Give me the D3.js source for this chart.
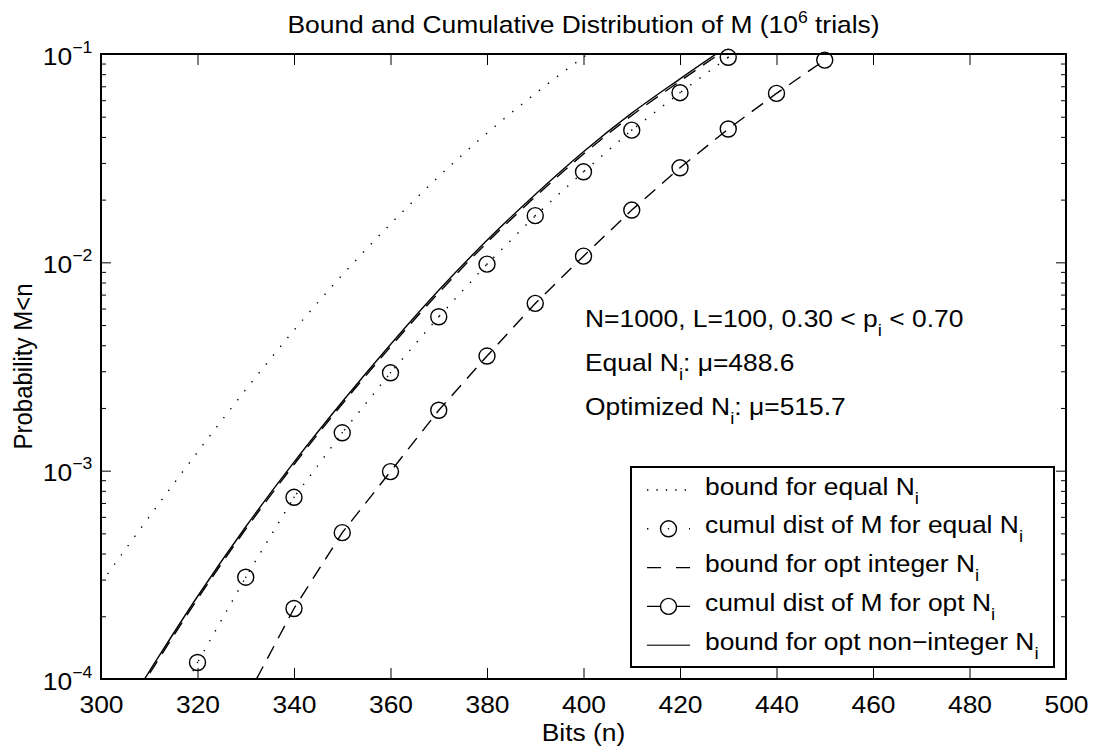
<!DOCTYPE html>
<html>
<head>
<meta charset="utf-8">
<script src="https://cdn.jsdelivr.net/npm/d3@7/dist/d3.min.js"></script>
<style>
  body { margin: 0; background: #fff; }
  text { font-family: "Liberation Sans", Arial, sans-serif; fill: #000; }
</style>
</head>
<body>
<svg id="chart"></svg>
<script>
// values (bits n, probability M<n)
var boundEqualBits = [300, 310, 320, 330, 340, 350, 360, 370, 380, 390, 400, 410];
var boundEqual = [2.89e-4, 6.01e-4, 1.227e-3, 2.449e-3, 4.72e-3, 8.69e-3, 0.01528, 0.02582, 0.04169, 0.06457, 0.0966, 0.1396];

var boundOptBits = [300, 310, 320, 330, 340, 350, 360, 370, 380, 390, 400, 410, 420, 430];
var boundOptInteger = [4.5e-5, 1.056e-4, 2.42e-4, 5.24e-4, 1.07e-3, 2.09e-3, 3.93e-3, 7.15e-3, 0.01243, 0.02063, 0.0331, 0.0507, 0.0741, 0.1070];
var boundOptNonInteger = [4.63e-5, 1.086e-4, 2.489e-4, 5.38e-4, 1.099e-3, 2.143e-3, 4.036e-3, 7.345e-3, 0.01276, 0.02118, 0.03396, 0.0520, 0.0760, 0.1096];

var cumulEqualBits = [310, 320, 330, 340, 350, 360, 370, 380, 390, 400, 410, 420, 430];
var cumulEqual = [4.5e-5, 1.2e-4, 3.08e-4, 7.45e-4, 1.52e-3, 2.95e-3, 5.48e-3, 9.8e-3, 0.01675, 0.0272, 0.0431, 0.0652, 0.0964];

var cumulOptBits = [330, 340, 350, 360, 370, 380, 390, 400, 410, 420, 430, 440, 450];
var cumulOpt = [8.0e-5, 2.18e-4, 5.04e-4, 9.9e-4, 1.95e-3, 3.55e-3, 6.35e-3, 0.01071, 0.01782, 0.02843, 0.04365, 0.0647, 0.0935];

var xTicks = [300, 320, 340, 360, 380, 400, 420, 440, 460, 480, 500];
var yMajorTicks = [1e-4, 1e-3, 1e-2, 1e-1];
var yMinorTicks = [];
[1e-4, 1e-3, 1e-2].forEach(function(dec) {
  for (var k = 2; k <= 9; k++) yMinorTicks.push(k * dec);
});

var legendLabels = ["bound for equal N", "cumul dist of M for equal N", "bound for opt integer N",
                    "cumul dist of M for opt N", "bound for opt non\u2212integer N"];
var noteLines = [["N=1000, L=100, 0.30 < p", "i", " < 0.70"],
                 ["Equal N", "i", ": \u03bc=488.6"],
                 ["Optimized N", "i", ": \u03bc=515.7"]];

function zip(xs, ys) {
  return xs.map(function(v, i) { return [v, ys[i]]; });
}

var stretch = 1.1;

function drawChart() {
  var svg = d3.select('#chart');
  var width = 1095, height = 753;
  var left = 101, right = 1066, top = 54, bottom = 679;
  var fs = 24;

  svg.attr('width', width).attr('height', height);
  svg.append('rect').attr('width', width).attr('height', height).attr('fill', '#fff');

  var xScale = d3.scaleLinear().domain([300, 500]).range([left, right]);
  var yScale = d3.scaleLog().domain([1e-4, 1e-1]).range([bottom, top]);

  // axes, ticks pointing inward
  var gx = svg.append('g').attr('transform', 'translate(0,' + bottom + ')')
    .call(d3.axisBottom(xScale).tickValues(xTicks).tickSizeInner(-11).tickSizeOuter(0).tickPadding(17));
  gx.attr('font-size', fs);
  gx.selectAll('.tick text').attr('transform', 'scale(' + stretch + ',1)');

  svg.append('g').attr('transform', 'translate(0,' + top + ')')
    .call(d3.axisTop(xScale).tickValues(xTicks).tickSizeInner(-11).tickSizeOuter(0).tickFormat(''));

  var gy = svg.append('g').attr('transform', 'translate(' + left + ',0)')
    .call(d3.axisLeft(yScale).tickValues(yMajorTicks).tickSizeInner(-10).tickSizeOuter(0).tickPadding(8)
      .tickFormat(function() { return '10'; }));
  gy.attr('font-size', fs);
  gy.selectAll('.tick text').attr('dy', '0.42em').attr('transform', 'scale(' + stretch + ',1)')
    .append('tspan').attr('dy', -12).attr('font-size', 16)
    .text(function(d) { return '\u2212' + Math.round(-Math.log10(d)); });

  svg.append('g').attr('transform', 'translate(' + left + ',0)')
    .call(d3.axisLeft(yScale).tickValues(yMinorTicks).tickSizeInner(-5).tickSizeOuter(0).tickFormat(''));
  svg.append('g').attr('transform', 'translate(' + right + ',0)')
    .call(d3.axisRight(yScale).tickValues(yMajorTicks).tickSizeInner(-10).tickSizeOuter(0).tickFormat(''));
  svg.append('g').attr('transform', 'translate(' + right + ',0)')
    .call(d3.axisRight(yScale).tickValues(yMinorTicks).tickSizeInner(-5).tickSizeOuter(0).tickFormat(''));

  svg.selectAll('.domain').remove();
  svg.selectAll('.tick line').attr('stroke', '#000').attr('stroke-width', 1);

  svg.append('clipPath').attr('id', 'plotClip')
    .append('rect').attr('x', left).attr('y', top).attr('width', right - left).attr('height', bottom - top);

  var plot = svg.append('g').attr('clip-path', 'url(#plotClip)');
  var smooth = d3.line().x(function(d) { return xScale(d[0]); }).y(function(d) { return yScale(d[1]); })
    .curve(d3.curveCatmullRom.alpha(0.5));
  var straight = d3.line().x(function(d) { return xScale(d[0]); }).y(function(d) { return yScale(d[1]); });

  var dotted = '1.4,10', dashed = '14,9';

  plot.append('path').attr('d', smooth(zip(boundEqualBits, boundEqual)))
    .attr('fill', 'none').attr('stroke', '#000').attr('stroke-width', 1.4).attr('stroke-dasharray', dotted);
  plot.append('path').attr('d', straight(zip(cumulEqualBits, cumulEqual)))
    .attr('fill', 'none').attr('stroke', '#000').attr('stroke-width', 1.4).attr('stroke-dasharray', dotted);
  plot.append('path').attr('d', smooth(zip(boundOptBits, boundOptInteger)))
    .attr('fill', 'none').attr('stroke', '#000').attr('stroke-width', 1.4).attr('stroke-dasharray', dashed);
  plot.append('path').attr('d', straight(zip(cumulOptBits, cumulOpt)))
    .attr('fill', 'none').attr('stroke', '#000').attr('stroke-width', 1.4).attr('stroke-dasharray', dashed);
  plot.append('path').attr('d', smooth(zip(boundOptBits, boundOptNonInteger)))
    .attr('fill', 'none').attr('stroke', '#000').attr('stroke-width', 1.4);

  // circle markers (not clipped, only points inside the y range)
  var inRange = function(d) { return d[1] >= 1e-4 && d[1] <= 1e-1; };
  [zip(cumulEqualBits, cumulEqual), zip(cumulOptBits, cumulOpt)].forEach(function(pts, s) {
    var g = svg.append('g');
    g.selectAll('circle.mk').data(pts.filter(inRange)).enter().append('circle')
      .attr('cx', function(d) { return xScale(d[0]); })
      .attr('cy', function(d) { return yScale(d[1]); })
      .attr('r', 8).attr('fill', 'none').attr('stroke', '#000').attr('stroke-width', 1.4);
    if (s === 0) {
      g.selectAll('circle.dot').data(pts.filter(inRange)).enter().append('circle')
        .attr('cx', function(d) { return xScale(d[0]); })
        .attr('cy', function(d) { return yScale(d[1]); })
        .attr('r', 0.8).attr('fill', '#000');
    }
  });

  // frame
  svg.append('rect').attr('x', left).attr('y', top).attr('width', right - left).attr('height', bottom - top)
    .attr('fill', 'none').attr('stroke', '#000').attr('stroke-width', 2);

  // title and axis labels
  var title = svg.append('text').attr('transform', 'translate(' + ((left + right) / 2) + ',33) scale(' + stretch + ',1)')
    .attr('text-anchor', 'middle').attr('font-size', fs);
  title.append('tspan').text('Bound and Cumulative Distribution of M (10');
  title.append('tspan').attr('dy', -10).attr('font-size', 16).text('6');
  title.append('tspan').attr('dy', 10).text(' trials)');

  svg.append('text').attr('transform', 'translate(' + ((left + right) / 2) + ',741) scale(' + stretch + ',1)')
    .attr('text-anchor', 'middle').attr('font-size', fs).text('Bits (n)');

  svg.append('text').attr('transform', 'translate(32,' + ((top + bottom) / 2) + ') rotate(-90) scale(1,' + stretch + ')')
    .attr('text-anchor', 'middle').attr('font-size', fs).text('Probability M<n');

  // annotation
  noteLines.forEach(function(parts, i) {
    var t = svg.append('text').attr('transform', 'translate(585,' + (327 + i * 44) + ') scale(' + stretch + ',1)')
      .attr('font-size', fs);
    t.append('tspan').text(parts[0]);
    t.append('tspan').attr('dy', 9).attr('font-size', 17).text(parts[1]);
    t.append('tspan').attr('dy', -9).text(parts[2]);
  });

  // legend
  var lg = svg.append('g');
  lg.append('rect').attr('x', 631).attr('y', 467).attr('width', 423).attr('height', 200)
    .attr('fill', '#fff').attr('stroke', '#000').attr('stroke-width', 2);
  legendLabels.forEach(function(label, i) {
    var cy = 490 + i * 38.8;
    var x1 = 647, x2 = 690, xm = 668.5;
    var ln = lg.append('line').attr('x1', x1).attr('x2', x2).attr('y1', cy).attr('y2', cy)
      .attr('stroke', '#000').attr('stroke-width', 1.4);
    if (i === 0) ln.attr('stroke-dasharray', '1.4,8');
    if (i === 1) ln.attr('stroke-dasharray', '1.4,19.6');
    if (i === 2) ln.attr('stroke-dasharray', '14,15');
    if (i === 3) ln.attr('stroke-dasharray', '14,15');
    if (i === 4) ln.attr('stroke', '#444');
    if (i === 1 || i === 3) {
      lg.append('circle').attr('cx', xm).attr('cy', cy).attr('r', 8)
        .attr('fill', '#fff').attr('stroke', '#000').attr('stroke-width', 1.4);
    }
    if (i === 1) lg.append('circle').attr('cx', xm).attr('cy', cy).attr('r', 0.8).attr('fill', '#000');
    var t = lg.append('text').attr('transform', 'translate(705,' + (cy + 4.5) + ') scale(' + stretch + ',1)')
      .attr('font-size', fs);
    t.append('tspan').text(label);
    t.append('tspan').attr('dy', 9).attr('font-size', 17).text('i');
  });
}

drawChart();
</script>
</body>
</html>
